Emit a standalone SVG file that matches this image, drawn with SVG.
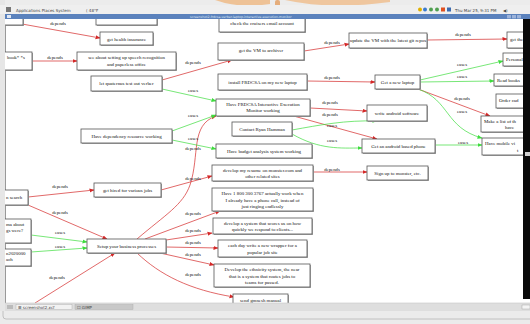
<svg xmlns="http://www.w3.org/2000/svg" width="530" height="324" viewBox="0 0 530 324">
<defs>
<style>
.bx{fill:#fff;stroke:#555;stroke-width:0.8}
.sh{fill:#a8a8a8}
.t{font-family:"Liberation Serif",serif;font-size:4.9px;fill:#111;text-anchor:middle}
.ts{font-family:"Liberation Serif",serif;font-size:4.9px;fill:#111}
.lb{font-family:"Liberation Serif",serif;font-size:4.8px;fill:#111;text-anchor:middle}
.r{fill:none;stroke:#d42828;stroke-width:0.7;marker-end:url(#ar)}
.g{fill:none;stroke:#3ddc3d;stroke-width:0.7;marker-end:url(#ag)}
.ui{font-family:"DejaVu Sans",sans-serif;font-size:4px;fill:#444}
</style>
<marker id="ar" viewBox="0 0 10 10" refX="9" refY="5" markerWidth="5" markerHeight="5" orient="auto" markerUnits="userSpaceOnUse"><path d="M0,1 L10,5 L0,9 z" fill="#d42828"/></marker>
<marker id="ag" viewBox="0 0 10 10" refX="9" refY="5" markerWidth="5" markerHeight="5" orient="auto" markerUnits="userSpaceOnUse"><path d="M0,1 L10,5 L0,9 z" fill="#3ddc3d"/></marker>
</defs>

<!-- desktop -->
<rect x="0" y="0" width="530" height="324" fill="#ececec"/>
<g opacity="0.55">
<path d="M215,0 Q240,9 270,4 L270,0 z" fill="#f0a050"/>
<rect x="275" y="0" width="5" height="14" rx="2" fill="#e07a20"/>
<path d="M285,0 Q330,10 390,2 L390,0 z" fill="#f2a860"/>
</g>

<!-- window content -->
<rect x="5" y="14" width="525" height="290" fill="#fff"/>
<line x1="5.5" y1="14" x2="5.5" y2="304" stroke="#999" stroke-width="1"/>

<!-- connectors -->
<g id="connectors">
<path class="r" d="M22,24 L100,38"/>
<path class="r" d="M32,61 L77,61"/>
<path class="r" d="M162,80 L232,60"/>
<path class="r" d="M304,51 L349,44"/>
<path class="r" d="M427,40 L507,39"/>
<path class="r" d="M307,81 L375,82"/>
<path class="r" d="M418,89 L490,116"/>
<path class="r" d="M310,108 L367,111"/>
<path class="r" d="M290,115 L377,139"/>
<path class="r" d="M137,239 C165,215 183,205 190,185 C200,155 190,125 216,116"/>
<path class="r" d="M161,190 L212,176"/>
<path class="r" d="M313,172 L367,172"/>
<path class="r" d="M28,197 L94,190"/>
<path class="r" d="M28,205 L107,239"/>
<path class="r" d="M35,303 L115,253"/>
<path class="r" d="M145,239 L220,211"/>
<path class="r" d="M166,240 L212,233"/>
<path class="r" d="M166,247 L218,248"/>
<path class="r" d="M160,253 L214,265"/>
<path class="r" d="M137,253 C160,275 190,290 234,297"/>
<path class="g" d="M162,89 L216,101"/>
<path class="g" d="M420,80 L503,61"/>
<path class="g" d="M420,82 L494,81"/>
<path class="g" d="M418,89 C450,100 445,128 482,138"/>
<path class="g" d="M292,130 C320,125 345,120 377,121"/>
<path class="g" d="M292,134 C320,150 340,148 362,148"/>
<path class="g" d="M435,145 L482,145"/>
<path class="g" d="M172,131 L216,115"/>
<path class="g" d="M172,140 L216,149"/>
<path class="g" d="M31,235 L87,242"/>
<path class="g" d="M31,252 L87,248"/>
<text class="lb" x="58" y="25">depends</text>
<text class="lb" x="55" y="59">depends</text>
<text class="lb" x="193" y="64">depends</text>
<text class="lb" x="332" y="44">depends</text>
<text class="lb" x="463" y="36">depends</text>
<text class="lb" x="332" y="79">depends</text>
<text class="lb" x="462" y="100">depends</text>
<text class="lb" x="330" y="104">depends</text>
<text class="lb" x="330" y="116">depends</text>
<text class="lb" x="193" y="150">depends</text>
<text class="lb" x="193" y="180">depends</text>
<text class="lb" x="332" y="171">depends</text>
<text class="lb" x="60" y="188">depends</text>
<text class="lb" x="60" y="214">depends</text>
<text class="lb" x="57" y="279">depends</text>
<text class="lb" x="193" y="215">depends</text>
<text class="lb" x="193" y="232">depends</text>
<text class="lb" x="193" y="244">depends</text>
<text class="lb" x="193" y="256">depends</text>
<text class="lb" x="193" y="276">depends</text>
<text class="lb" x="193" y="92">eases</text>
<text class="lb" x="462" y="66">eases</text>
<text class="lb" x="462" y="78">eases</text>
<text class="lb" x="462" y="113">eases</text>
<text class="lb" x="332" y="127">eases</text>
<text class="lb" x="332" y="142">eases</text>
<text class="lb" x="463" y="144">eases</text>
<text class="lb" x="193" y="117">eases</text>
<text class="lb" x="193" y="140">eases</text>
<text class="lb" x="60" y="234">eases</text>
<text class="lb" x="60" y="248">eases</text>
</g>

<!-- nodes -->
<g id="n1"><rect class="sh" x="-1" y="11" width="25" height="15"/><rect class="bx" x="-2" y="10" width="25" height="15"/></g>
<g id="n2"><rect class="sh" x="97" y="11" width="61" height="15"/><rect class="bx" x="96" y="10" width="61" height="15"/></g>
<g id="n3"><rect class="sh" x="220" y="13" width="86" height="20"/><rect class="bx" x="219" y="12" width="86" height="20"/><text class="t" x="262" y="25">check the cruisers email account</text></g>
<g id="n4"><rect class="sh" x="101" y="33" width="53" height="13"/><rect class="bx" x="100" y="32" width="53" height="13"/><text class="t" x="126.5" y="40.5">get health insurance</text></g>
<g id="n5"><rect class="sh" x="-1" y="53" width="34" height="18"/><rect class="bx" x="-2" y="52" width="34" height="18"/><text class="ts" x="7" y="59">book* *s</text></g>
<g id="n6"><rect class="sh" x="78" y="53" width="99" height="18"/><rect class="bx" x="77" y="52" width="99" height="18"/><text class="t" x="126.5" y="59">see about setting up speech recognition</text><text class="t" x="126.5" y="66">and paperless office</text></g>
<g id="n7"><rect class="sh" x="219" y="44" width="86" height="17"/><rect class="bx" x="218" y="43" width="86" height="17"/><text class="t" x="261" y="52">get the VM to archiver</text></g>
<g id="n8"><rect class="sh" x="350" y="34" width="78" height="15"/><rect class="bx" x="349" y="33" width="78" height="15"/><text class="t" x="388" y="42">update the VM with the latest git repos</text></g>
<g id="n9"><rect class="sh" x="508" y="33" width="20" height="16"/><rect class="bx" x="507" y="32" width="20" height="16"/><text class="ts" x="510" y="41">get the</text></g>
<g id="n10"><rect class="sh" x="92" y="77" width="71" height="15"/><rect class="bx" x="91" y="76" width="71" height="15"/><text class="t" x="126.5" y="85">let quaternus test out verber</text></g>
<g id="n11"><rect class="sh" x="219" y="75" width="89" height="16"/><rect class="bx" x="218" y="74" width="89" height="16"/><text class="t" x="262.5" y="84">install FRDCSA on my new laptop</text></g>
<g id="n12"><rect class="sh" x="376" y="76" width="45" height="14"/><rect class="bx" x="375" y="75" width="45" height="14"/><text class="t" x="397.5" y="84">Get a new laptop</text></g>
<g id="n13"><rect class="sh" x="504" y="54" width="25" height="13"/><rect class="bx" x="503" y="53" width="25" height="13"/><text class="ts" x="506" y="61">Personal</text></g>
<g id="n14"><rect class="sh" x="495" y="75" width="34" height="12"/><rect class="bx" x="494" y="74" width="34" height="12"/><text class="ts" x="497" y="82">Read books</text></g>
<g id="n15"><rect class="sh" x="497" y="95" width="30" height="14"/><rect class="bx" x="496" y="94" width="30" height="14"/><text class="ts" x="499" y="102">Order cad</text></g>
<g id="n16"><rect class="sh" x="482" y="117" width="45" height="16"/><rect class="bx" x="481" y="116" width="45" height="16"/><text class="ts" x="484" y="122.5">Make a list of th</text><text class="ts" x="505" y="129">have</text></g>
<g id="n17"><rect class="sh" x="483" y="139" width="45" height="17"/><rect class="bx" x="482" y="138" width="45" height="17"/><text class="ts" x="485" y="145">Have mobile vi</text><text class="ts" x="517" y="151.5">t</text></g>
<g id="n18"><rect class="sh" x="217" y="100" width="94" height="17"/><rect class="bx" x="216" y="99" width="94" height="17"/><text class="t" x="263" y="105.5">Have FRDCSA Interactive Execution</text><text class="t" x="263" y="112">Monitor working</text></g>
<g id="n19"><rect class="sh" x="233" y="123" width="60" height="14"/><rect class="bx" x="232" y="122" width="60" height="14"/><text class="t" x="262" y="131">Contact Ryan Hamman</text></g>
<g id="n20"><rect class="sh" x="82" y="130" width="91" height="14"/><rect class="bx" x="81" y="129" width="91" height="14"/><text class="t" x="126.5" y="138">Have dependency resource working</text></g>
<g id="n21"><rect class="sh" x="217" y="145" width="96" height="14"/><rect class="bx" x="216" y="144" width="96" height="14"/><text class="t" x="264" y="153">Have budget analysis system working</text></g>
<g id="n22"><rect class="sh" x="368" y="106" width="60" height="16"/><rect class="bx" x="367" y="105" width="60" height="16"/><text class="t" x="397" y="114.5">write android software</text></g>
<g id="n23"><rect class="sh" x="363" y="140" width="73" height="14"/><rect class="bx" x="362" y="139" width="73" height="14"/><text class="t" x="398.5" y="148">Get an android based phone</text></g>
<g id="n24"><rect class="sh" x="213" y="166" width="101" height="16"/><rect class="bx" x="212" y="165" width="101" height="16"/><text class="t" x="262.5" y="171.5">develop my resume on monster.com and</text><text class="t" x="262.5" y="178">other related sites</text></g>
<g id="n25"><rect class="sh" x="368" y="167" width="61" height="14"/><rect class="bx" x="367" y="166" width="61" height="14"/><text class="t" x="397.5" y="174.5">Sign up to monster, etc.</text></g>
<g id="n26"><rect class="sh" x="95" y="184" width="67" height="14"/><rect class="bx" x="94" y="183" width="67" height="14"/><text class="t" x="127.5" y="192">get hired for various jobs</text></g>
<g id="n27"><rect class="sh" x="-1" y="191" width="30" height="15"/><rect class="bx" x="-2" y="190" width="30" height="15"/><text class="ts" x="6" y="199">n search</text></g>
<g id="n28"><rect class="sh" x="213" y="189" width="101" height="23"/><rect class="bx" x="212" y="188" width="101" height="23"/><text class="t" x="262.5" y="195">Have 1 800 300 3767 actually work when</text><text class="t" x="262.5" y="201.5">I already have a phone call, instead of</text><text class="t" x="262.5" y="208">just ringing endlessly</text></g>
<g id="n29"><rect class="sh" x="214" y="219" width="99" height="16"/><rect class="bx" x="213" y="218" width="99" height="16"/><text class="t" x="262.5" y="224.5">develop a system that scores us on how</text><text class="t" x="262.5" y="231">quickly we respond to clients...</text></g>
<g id="n30"><rect class="sh" x="219" y="241" width="89" height="17"/><rect class="bx" x="218" y="240" width="89" height="17"/><text class="t" x="262.5" y="247">each day write a new wrapper for a</text><text class="t" x="262.5" y="253.5">popular job site</text></g>
<g id="n31"><rect class="sh" x="215" y="265" width="96" height="23"/><rect class="bx" x="214" y="264" width="96" height="23"/><text class="t" x="262" y="271">Develop the ethnicity system, the near</text><text class="t" x="262" y="277.5">that is a system that routes jobs to</text><text class="t" x="262" y="284">teams for passed.</text></g>
<g id="n32"><rect class="sh" x="234" y="295" width="55" height="12"/><rect class="bx" x="233" y="294" width="55" height="12"/><text class="t" x="260.5" y="301.5">send gmnesh manual</text></g>
<g id="n33"><rect class="sh" x="88" y="240" width="79" height="14"/><rect class="bx" x="87" y="239" width="79" height="14"/><text class="t" x="126.5" y="248">Setup your business processes</text></g>
<g id="n34"><rect class="sh" x="-1" y="220" width="33" height="24"/><rect class="bx" x="-2" y="219" width="33" height="24"/><text class="ts" x="6" y="225.5">ma about</text><text class="ts" x="6" y="232">gs were?</text></g>
<g id="n35"><rect class="sh" x="-1" y="250" width="33" height="17"/><rect class="bx" x="-2" y="249" width="33" height="17"/><text class="ts" x="6" y="255">n2020000</text><text class="ts" x="6" y="261">ach</text></g>

<!-- chrome -->
<rect x="0" y="0" width="5" height="324" fill="#e6e6e6"/>
<rect x="0" y="5" width="530" height="9" fill="#efefef"/>
<rect x="6" y="7" width="5" height="5" fill="#777"/>
<text class="ui" x="16" y="11.5">Applications  Places  System</text>
<text class="ui" x="86" y="11.5">( 48°F</text>
<circle cx="420" cy="9.5" r="2" fill="#e0b000"/>
<circle cx="425" cy="9.5" r="2" fill="#3a7ad0"/>
<circle cx="431" cy="9.5" r="2" fill="#50a050"/>
<circle cx="437" cy="9.5" r="2" fill="#50a050"/>
<rect x="441" y="7.5" width="4" height="4" fill="#e05020"/>
<rect x="447" y="7.5" width="4" height="4" fill="#3a6ab0"/>
<text class="ui" x="455" y="11.5">Thu Mar 25, 9:31 PM</text>
<text class="ui" x="503" y="11.5">◀)</text>
<rect x="5" y="14" width="525" height="5" fill="#5b82bd"/>
<rect x="7" y="15" width="4" height="3" fill="#dfe7f3"/>
<text font-family="DejaVu Sans,sans-serif" font-size="3.2" fill="#dfe7f3" x="190" y="17.8">screenshot2-frdcsa-verber-laptop-interactive-execution-monitor</text>
<rect x="507" y="15" width="4" height="3.4" fill="#9cb3da"/>
<rect x="512" y="15" width="4" height="3.4" fill="#9cb3da"/>
<rect x="517" y="15" width="4" height="3.4" fill="#9cb3da"/>
<rect x="523" y="19" width="7" height="280" fill="#0a0a0a"/>
<rect x="525" y="152" width="5" height="4" fill="#cfcfcf"/>
<rect x="5" y="303" width="525" height="8" fill="#dedede"/>
<line x1="5" y1="303" x2="530" y2="303" stroke="#c8c8c8" stroke-width="0.6"/>
<rect x="7" y="305" width="6" height="4" fill="#bbb"/>
<rect x="16" y="304.5" width="56" height="5" fill="#f2f2f2" stroke="#aaa" stroke-width="0.4"/>
<text class="ui" x="18" y="308.6">☰ screenshot2.xcf</text>
<rect x="75" y="304.5" width="58" height="5" fill="#c8c8c8" stroke="#aaa" stroke-width="0.4"/>
<text class="ui" x="77" y="308.6">☐ GIMP</text>
<rect x="522" y="305" width="8" height="4" fill="#f4f4f4" stroke="#999" stroke-width="0.4"/>
<rect x="0" y="311" width="530" height="13" fill="#ebebeb"/>
<path d="M3,311 L3,316 Q3,319 6,319 L530,319" fill="none" stroke="#b5b5b5" stroke-width="0.8"/>
</svg>
